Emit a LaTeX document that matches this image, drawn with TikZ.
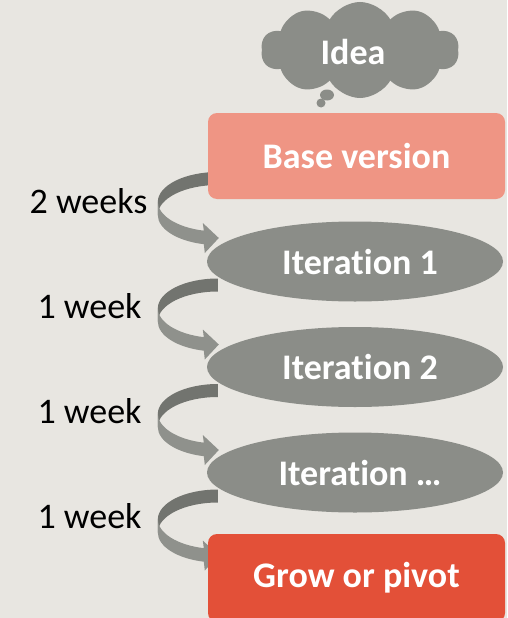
\documentclass[tikz,border=0pt]{standalone}
\usepackage{fontspec}
\setmainfont[Ligatures=NoCommon]{Carlito}
\usetikzlibrary{shapes,positioning}
\pgfdeclarelayer{background}
\pgfsetlayers{background,main}
\definecolor{paper}{HTML}{E8E6E1}
\definecolor{stone}{HTML}{8B8D88}
\definecolor{stonedark}{HTML}{72746F}
\definecolor{stonelight}{HTML}{8F918C}
\definecolor{salmon}{HTML}{EF9584}
\definecolor{brick}{HTML}{E35038}

\begin{document}
\begin{tikzpicture}[x=1pt,y=-1pt,
						every node/.style={on grid, font=\fontsize{36}{43}\selectfont},
						stage/.style={fill=stone, text=white, font=\fontsize{36}{43}\selectfont\bfseries, inner sep=0pt},
						box/.style={stage, rectangle, rounded corners=9pt, minimum width=297pt, minimum height=86pt},
						round/.style={stage, ellipse, minimum width=296pt, minimum height=80pt},
						weeks/.style={text=black, inner sep=0pt},
						node distance=105.5pt,
						bend/.pic={
							\fill[stonedark] (0,0) arc[start angle=270, end angle=180, x radius=60, y radius=30]
								-- ++(0,13) arc[start angle=180, end angle=270, x radius=60, y radius=30] -- cycle;
							\fill[stonelight] (-60,29.5) arc[start angle=180, end angle=103.5, x radius=60, y radius=30]
								-- (-15,51) -- (1,66) -- (-13,81) -- (-14,72.2)
								arc[start angle=103.5, end angle=180, x radius=60, y radius=30] -- cycle;
						}]
					\clip (0,0) rectangle (507,618);
					\node[stage, cloud, cloud puffs=10, cloud puff arc=120, cloud ignores aspect,
						minimum width=198pt, minimum height=96pt] (idea) at (360,50) {};
					\node[stage, fill=none] at (353,52) {Idea};
					\fill[stone] (327,95) ellipse[x radius=7, y radius=5.5];
					\fill[stone] (321,103) circle[radius=4.5];

					\node[box, fill=salmon] (base) at (356.5,156) {Base version};
					\node[round, below= of base, xshift=-1.5pt] (it1) {\hspace{10pt}Iteration 1};
					\node[round, below= of it1] (it2) {\hspace{10pt}Iteration 2};
					\node[round, below= of it2] (it3) {\hspace{10pt}Iteration …};
					\node[box, fill=brick, minimum height=88pt, below= of it3, xshift=1.5pt] (grow) {Grow or pivot};

					\node[weeks] (w1) at (88.5,201) {2 weeks};
					\node[weeks] (w2) at (89.5,306) {1 week};
					\node[weeks] (w3) at (89.5,411) {1 week};
					\node[weeks] (w4) at (89.5,516) {1 week};

					\begin{pgfonlayer}{background}
						\fill[paper] (0,0) rectangle (507,618);
						\pic at ([shift={(10,16)}]base.west) {bend};
						\pic at ([shift={(11,17)}]it1.west) {bend};
						\pic at ([shift={(11,17)}]it2.west) {bend};
						\pic at ([shift={(11,17)}]it3.west) {bend};
					\end{pgfonlayer}
				\end{tikzpicture}
\end{document}
